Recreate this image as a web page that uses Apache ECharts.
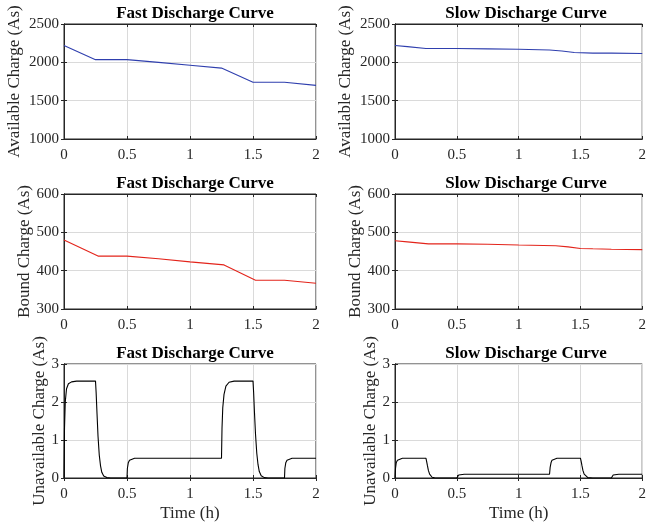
<!DOCTYPE html>
<html>
<head>
<meta charset="utf-8">
<script src="https://cdn.jsdelivr.net/npm/echarts@6/dist/echarts.min.js"></script>
<style>
html, body { margin: 0; padding: 0; background: #fff; }
#main { width: 649px; height: 524px; }
</style>
</head>
<body>
<div id="main"></div>
<script>
// available charge (As)
var fastAvailT = [0, 0.25, 0.5, 0.75, 1, 1.25, 1.5, 1.75, 2];
var fastAvailV = [2220, 2035, 2035, 2000, 1962, 1925, 1740, 1740, 1700];
var slowAvailT = [0, 0.1, 0.25, 0.5, 0.75, 1, 1.25, 1.35, 1.45, 1.6, 1.75, 2];
var slowAvailV = [2220, 2205, 2180, 2180, 2175, 2170, 2160, 2148, 2128, 2120, 2120, 2115];

// bound charge (As)
var fastBoundT = [0, 0.27, 0.5, 0.75, 1, 1.27, 1.52, 1.75, 2];
var fastBoundV = [480, 438, 438, 431, 423, 415, 375, 375, 367];
var slowBoundT = [0, 0.1, 0.27, 0.5, 0.75, 1, 1.3, 1.4, 1.5, 1.6, 1.75, 2];
var slowBoundV = [478, 475, 470, 470, 469, 467, 465, 462, 458, 457, 456, 455];

// unavailable charge (As)
var fastUnT = [0, 0.004, 0.01, 0.02, 0.035, 0.06, 0.1, 0.25, 0.255, 0.262, 0.27, 0.28, 0.29, 0.3, 0.315, 0.34, 0.37, 0.5,
    0.503, 0.51, 0.52, 0.535, 0.56, 1.25, 1.254, 1.26, 1.27, 1.285, 1.31, 1.35, 1.5, 1.505, 1.512, 1.52, 1.53, 1.54, 1.55, 1.565, 1.59, 1.62, 1.75,
    1.753, 1.76, 1.77, 1.785, 1.81, 2];
var fastUnV = [0, 1.3, 2.0, 2.35, 2.48, 2.53, 2.55, 2.55, 2.25, 1.7, 1.1, 0.6, 0.32, 0.15, 0.05, 0.01, 0, 0,
    0.25, 0.4, 0.47, 0.51, 0.52, 0.52, 1.3, 1.85, 2.2, 2.42, 2.52, 2.55, 2.55, 2.25, 1.7, 1.15, 0.65, 0.35, 0.17, 0.06, 0.01, 0, 0,
    0.25, 0.4, 0.47, 0.51, 0.52, 0.52];
var slowUnT = [0, 0.004, 0.01, 0.02, 0.035, 0.06, 0.25, 0.255, 0.262, 0.27, 0.28, 0.29, 0.3, 0.32, 0.35, 0.5,
    0.505, 0.515, 0.53, 0.56, 1.25, 1.255, 1.262, 1.27, 1.285, 1.31, 1.5, 1.505, 1.512, 1.52, 1.53, 1.54, 1.56, 1.6, 1.75,
    1.755, 1.765, 1.78, 1.81, 2];
var slowUnV = [0, 0.25, 0.4, 0.47, 0.51, 0.52, 0.52, 0.45, 0.33, 0.2, 0.1, 0.05, 0.02, 0.005, 0, 0,
    0.05, 0.08, 0.095, 0.1, 0.1, 0.28, 0.4, 0.47, 0.51, 0.52, 0.52, 0.45, 0.33, 0.2, 0.1, 0.05, 0.01, 0, 0,
    0.05, 0.08, 0.095, 0.1, 0.1];

function pairs(t, v) {
    var out = [];
    for (var i = 0; i < t.length; i++) out.push([t[i], v[i]]);
    return out;
}

var font = "'Liberation Serif', 'Times New Roman', serif";
var ink = "#262626";
var panels = [
    { title: "Fast Discharge Curve", yName: "Available Charge (As)", min: 1000, max: 2500, step: 500, gap: 41, data: pairs(fastAvailT, fastAvailV), color: "#2f3fae" },
    { title: "Slow Discharge Curve", yName: "Available Charge (As)", min: 1000, max: 2500, step: 500, gap: 41, data: pairs(slowAvailT, slowAvailV), color: "#2f3fae" },
    { title: "Fast Discharge Curve", yName: "Bound Charge (As)", min: 300, max: 600, step: 100, gap: 31, data: pairs(fastBoundT, fastBoundV), color: "#e3241b" },
    { title: "Slow Discharge Curve", yName: "Bound Charge (As)", min: 300, max: 600, step: 100, gap: 31, data: pairs(slowBoundT, slowBoundV), color: "#e3241b" },
    { title: "Fast Discharge Curve", yName: "Unavailable Charge (As)", min: 0, max: 3, step: 1, gap: 15, data: pairs(fastUnT, fastUnV), color: "#000000", timeLabel: true },
    { title: "Slow Discharge Curve", yName: "Unavailable Charge (As)", min: 0, max: 3, step: 1, gap: 15, data: pairs(slowUnT, slowUnV), color: "#000000", timeLabel: true }
];

var lefts = [64, 395];
var tops = [24, 194, 364];
var heights = [115, 115, 114];
var w = 252;

var option = { backgroundColor: "#fff", animation: false, title: [], grid: [], xAxis: [], yAxis: [], series: [] };
var tick = { show: true, inside: true, length: 3, lineStyle: { color: ink } };
var grey = { show: true, lineStyle: { color: "#dadada", width: 1 } };

for (var i = 0; i < panels.length; i++) {
    var p = panels[i];
    var col = i % 2, row = Math.floor(i / 2);
    var L = lefts[col], T = tops[row];
    option.title.push({
        text: p.title, left: L + w / 2, top: T - 24, textAlign: "center",
        textStyle: { fontFamily: font, fontWeight: "bold", fontSize: 17, color: "#000" }
    });
    option.grid.push({ left: L, top: T, width: w, height: heights[row], show: true, borderColor: ink, borderWidth: 1, backgroundColor: "transparent" });
    option.xAxis.push({
        type: "value", gridIndex: i, min: 0, max: 2, interval: 0.5, position: "bottom",
        name: p.timeLabel ? "Time (h)" : "", nameLocation: "middle", nameGap: 27,
        nameTextStyle: { fontFamily: font, fontSize: 17, color: ink },
        axisLine: { show: true, lineStyle: { color: ink } },
        axisTick: tick,
        axisLabel: { fontFamily: font, fontSize: 15, color: ink, margin: 9 },
        splitLine: grey
    });
    option.xAxis.push({
        type: "value", gridIndex: i, min: 0, max: 2, interval: 0.5, position: "top",
        axisLine: { show: true, lineStyle: { color: ink } },
        axisTick: tick, axisLabel: { show: false }, splitLine: { show: false }
    });
    option.yAxis.push({
        type: "value", gridIndex: i, min: p.min, max: p.max, interval: p.step, position: "left",
        name: p.yName, nameLocation: "middle", nameGap: p.gap,
        nameTextStyle: { fontFamily: font, fontSize: 17, color: ink },
        axisLine: { show: true, lineStyle: { color: ink } },
        axisTick: tick,
        axisLabel: { fontFamily: font, fontSize: 15, color: ink, margin: 5, formatter: function (v) { return String(v); } },
        splitLine: grey
    });
    option.yAxis.push({
        type: "value", gridIndex: i, min: p.min, max: p.max, interval: p.step, position: "right",
        axisLine: { show: true, lineStyle: { color: ink } },
        axisTick: tick, axisLabel: { show: false }, splitLine: { show: false }
    });
    option.series.push({
        type: "line", xAxisIndex: 2 * i, yAxisIndex: 2 * i, data: p.data, showSymbol: false,
        lineStyle: { color: p.color, width: 1.1 }, clip: true
    });
}

var chart = echarts.init(document.getElementById("main"));
chart.setOption(option);
</script>
</body>
</html>
